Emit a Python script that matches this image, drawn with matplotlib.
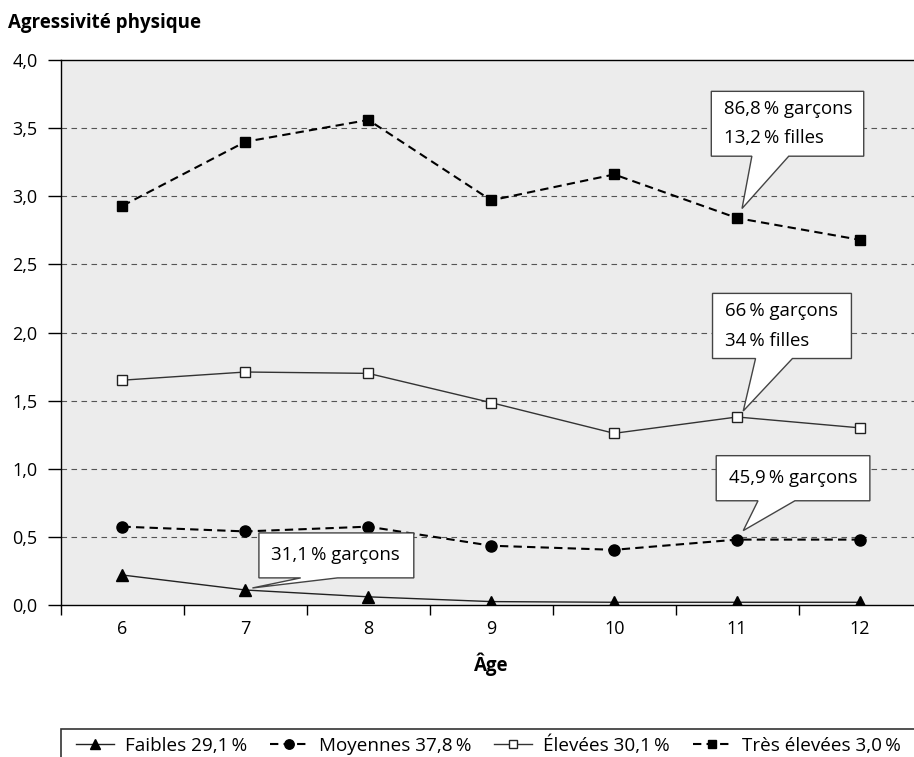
import matplotlib
matplotlib.use("Agg")
import matplotlib.pyplot as plt
from matplotlib.patches import Polygon, Rectangle
from matplotlib.ticker import FuncFormatter

plt.rcParams['font.family'] = ['Open Sans', 'DejaVu Sans']

# données
ages = [6, 7, 8, 9, 10, 11, 12]
faibles = [0.22, 0.11, 0.06, 0.025, 0.02, 0.02, 0.02]
moyennes = [0.575, 0.54, 0.575, 0.435, 0.405, 0.48, 0.48]
elevees = [1.65, 1.71, 1.70, 1.485, 1.26, 1.38, 1.30]
tres_elevees = [2.93, 3.40, 3.56, 2.97, 3.16, 2.84, 2.68]

labels = ["Faibles 29,1\u2009%", "Moyennes 37,8\u2009%", "Élevées 30,1\u2009%", "Très élevées 3,0\u2009%"]
y_ticks = [0.0, 0.5, 1.0, 1.5, 2.0, 2.5, 3.0, 3.5, 4.0]

W, H = 914, 757
fig = plt.figure(figsize=(W / 100, H / 100), dpi=100)
ax = fig.add_axes([61 / W, 1 - 605 / H, (921.5 - 61) / W, (605 - 60) / H])
ax.set_facecolor('#ececec')

x = list(range(len(ages)))

l1, = ax.plot(x, faibles, color='#222222', lw=1.0, marker='^', ms=8,
              mfc='black', mec='black', zorder=3)
l2, = ax.plot(x, moyennes, color='black', lw=1.5, ls=(0, (4, 2.5)), marker='o', ms=8,
              mfc='black', mec='black', zorder=3)
l3, = ax.plot(x, elevees, color='#333333', lw=1.0, marker='s', ms=7.5,
              mfc='white', mec='#222222', mew=1.0, zorder=3)
l4, = ax.plot(x, tres_elevees, color='black', lw=1.5, ls=(0, (4, 2.5)), marker='s', ms=7.5,
              mfc='black', mec='black', zorder=3)

ax.set_xlim(-0.5, len(ages) - 0.5)
ax.set_ylim(0, 4.0)
ax.set_yticks(y_ticks)
ax.yaxis.set_major_formatter(FuncFormatter(lambda v, p: f"{v:.1f}".replace('.', ',')))
for v in y_ticks[1:-1]:
    ax.axhline(v, color='#555555', lw=0.8, ls=(0, (5, 4)), zorder=1)

ax.set_xticks(x)
ax.set_xticklabels([str(a) for a in ages])
ax.set_xticks([i - 0.5 for i in range(len(ages) + 1)], minor=True)
ax.tick_params(axis='x', which='major', length=0, pad=11, labelsize=13)
ax.tick_params(axis='x', which='minor', length=7, width=1, direction='out')
ax.tick_params(axis='y', length=9.5, width=1, direction='out', pad=7.5, labelsize=13)
for s in ['left', 'bottom', 'top']:
    ax.spines[s].set_color('black')
    ax.spines[s].set_linewidth(1)
ax.spines['right'].set_visible(False)

ax.set_xlabel("Âge", fontsize=13.5, fontweight='bold', labelpad=10)
fig.text(8 / W, 1 - 23 / H, "Agressivité physique", fontsize=13.5, fontweight='bold', va='center', ha='left')


# bulles d'annotation
def bulle(serie, idx, box, base, dtip, lines):
    x0, x1, y0, y1 = box
    tx = x[idx] + dtip[0]
    ty = serie[idx] + dtip[1]
    pts = [(x0, y0), (base[0], y0), (tx, ty), (base[1], y0), (x1, y0), (x1, y1), (x0, y1)]
    ax.add_patch(Polygon(pts, closed=True, facecolor='white', edgecolor='#444444', lw=1.0, zorder=4))
    ax.text(x0 + 0.1, (y0 + y1) / 2, "\n".join(lines), fontsize=13.4, ha='left', va='center',
            linespacing=1.8, zorder=5)


bulle(tres_elevees, 5, (4.79, 6.03, 3.294, 3.77), (5.12, 5.42), (0.04, 0.07),
      ["86,8\u2009% garçons", "13,2\u2009% filles"])
bulle(elevees, 5, (4.80, 5.93, 1.809, 2.287), (5.15, 5.45), (0.05, 0.044),
      ["66\u2009% garçons", "34\u2009% filles"])
bulle(moyennes, 5, (4.83, 6.08, 0.765, 1.096), (5.17, 5.47), (0.05, 0.066),
      ["45,9\u2009% garçons"])
bulle(faibles, 1, (1.11, 2.37, 0.199, 0.529), (1.45, 1.75), (0.057, 0.015),
      ["31,1\u2009% garçons"])

# légende
fig.add_artist(Rectangle((61 / W, 1 - 775 / H), (940 - 61) / W, (775 - 729) / H,
                         transform=fig.transFigure, fill=False, edgecolor='#333333',
                         lw=1.2, clip_on=False))
fig.legend([l1, l2, l3, l4], labels, loc='center left', bbox_to_anchor=(76 / W, 1 - 745 / H),
           ncol=4, frameon=False, fontsize=13.6, handlelength=2.0, handletextpad=0.6,
           columnspacing=1.2, borderpad=0, borderaxespad=0, markerscale=0.85)

fig.savefig("out.png", dpi=100)
